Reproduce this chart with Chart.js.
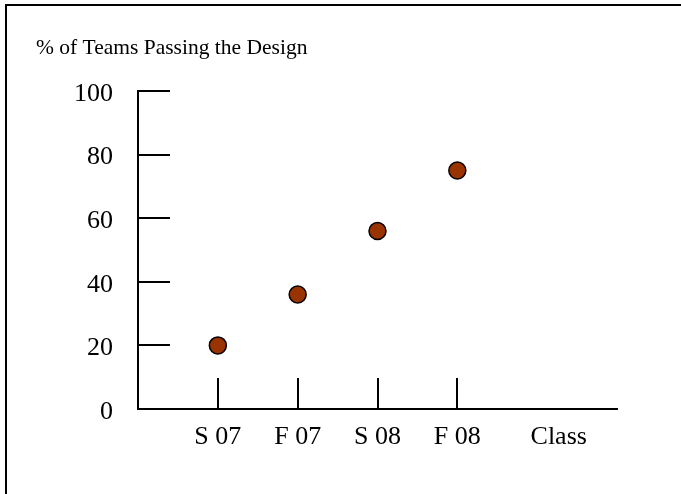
<!DOCTYPE html>
<html>
<head>
<meta charset="utf-8">
<script src="https://cdn.jsdelivr.net/npm/chart.js@4"></script>
<style>
  html, body { margin: 0; padding: 0; background: #fff; }
  canvas { display: block; }
</style>
</head>
<body>
<canvas id="c" width="681" height="494"></canvas>
<script>
const chartTitle = '% of Teams Passing the Design';
const categories = ['S 07', 'F 07', 'S 08', 'F 08'];
const axisEndLabel = 'Class';
const passRates = [20, 36, 56, 75];
const yTicks = [0, 20, 40, 60, 80, 100];

const FONT = '"Liberation Serif", "Times New Roman", serif';
const classPos = 5.27;

const decorPlugin = {
  id: 'decor',
  beforeDraw(chart) {
    const ctx = chart.ctx;
    ctx.save();
    ctx.fillStyle = '#fff';
    ctx.fillRect(0, 0, chart.width, chart.height);
    ctx.fillStyle = '#000';
    ctx.fillRect(5, 4, chart.width - 5, 2);
    ctx.fillRect(5, 4, 2, chart.height - 4);
    ctx.font = '21.5px ' + FONT;
    ctx.textBaseline = 'alphabetic';
    ctx.textAlign = 'left';
    ctx.fillText(chartTitle, 36, 54);
    ctx.restore();
  },
  beforeDatasetsDraw(chart) {
    const ctx = chart.ctx;
    const xs = chart.scales.x, ys = chart.scales.y;
    const x0 = xs.left, yb = ys.bottom;
    ctx.save();
    ctx.strokeStyle = '#000';
    ctx.lineWidth = 2;
    ctx.beginPath();
    yTicks.forEach(v => {
      if (v === 0) return;
      const py = Math.round(ys.getPixelForValue(v));
      ctx.moveTo(x0, py);
      ctx.lineTo(x0 + 32, py);
    });
    categories.forEach((c, i) => {
      const px = Math.round(xs.getPixelForValue(i + 1));
      ctx.moveTo(px, yb);
      ctx.lineTo(px, yb - 31);
    });
    ctx.stroke();
    ctx.restore();
  }
};

new Chart(document.getElementById('c'), {
  type: 'scatter',
  data: {
    datasets: [{
      data: passRates.map((v, i) => ({ x: i + 1, y: v })),
      pointRadius: 8.5,
      pointHoverRadius: 8.5,
      pointBackgroundColor: '#993300',
      pointBorderColor: '#000',
      pointBorderWidth: 1.5
    }]
  },
  options: {
    responsive: false,
    animation: false,
    devicePixelRatio: 1,
    layout: { padding: { left: 0, right: 64, top: 91, bottom: 0 } },
    plugins: {
      legend: { display: false },
      tooltip: { enabled: false },
      title: { display: false }
    },
    scales: {
      x: {
        type: 'linear',
        min: 0,
        max: 6,
        afterBuildTicks: s => {
          s.ticks = categories.map((c, i) => ({ value: i + 1 })).concat([{ value: classPos }]);
        },
        afterFit: s => { s.height = 85; },
        grid: { display: false, drawTicks: false },
        border: { display: true, color: '#000', width: 2 },
        ticks: {
          autoSkip: false,
          maxRotation: 0,
          padding: 13,
          color: '#000',
          font: { family: FONT, size: 26 },
          callback: (v, i) => (i < categories.length ? categories[i] : axisEndLabel)
        }
      },
      y: {
        min: 0,
        max: 100,
        afterBuildTicks: s => { s.ticks = yTicks.map(v => ({ value: v })); },
        afterFit: s => { s.width = 138; },
        grid: { display: false, drawTicks: false },
        border: { display: true, color: '#000', width: 2 },
        ticks: {
          padding: 25,
          labelOffset: 3,
          color: '#000',
          font: { family: FONT, size: 26 }
        }
      }
    }
  },
  plugins: [decorPlugin]
});
</script>
</body>
</html>
